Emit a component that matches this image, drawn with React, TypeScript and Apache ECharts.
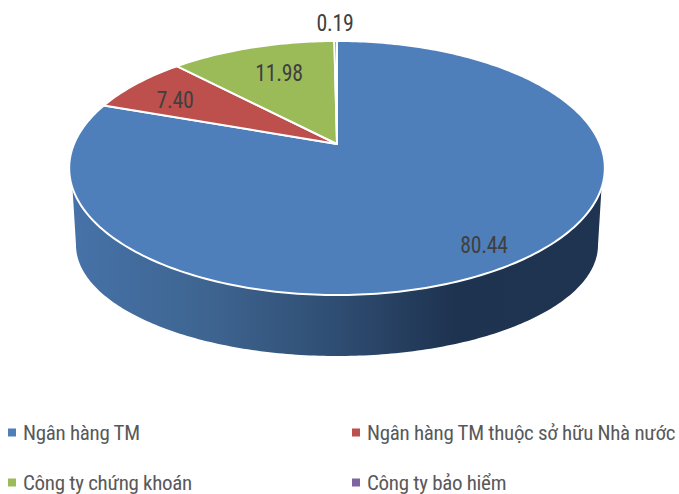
import React, { useEffect, useRef } from "react";
import * as echarts from "echarts";

const categories = ["Ngân hàng TM", "Ngân hàng TM thuộc sở hữu Nhà nước", "Công ty chứng khoán", "Công ty bảo hiểm"];
const values = [80.44, 7.4, 11.98, 0.19];
const labels = ["80.44", "7.40", "11.98", "0.19"];
const colors = ["#4e7fbb", "#bd4f4c", "#9bbb59", "#8064a2"];

const labelXY = [[484, 245], [175, 100], [279, 73], [335, 23]];
const legendXY = [[8, 422], [352, 422], [8, 472], [352, 472]];
const FONT = "Roboto, sans-serif";

// Perspective projection of the pie's top circle
const CX = 337, CY = 144, A = 263, B = 122.5, K = 0.189;
const project = (deg: number): number[] => {
  const t = (deg * Math.PI) / 180;
  const d = 1 + K * Math.cos(t);
  return [CX + (A * Math.sin(t)) / d, CY - (B * Math.cos(t)) / d];
};
// Lower rim of the pie's side wall
const RIM_CY = 245, RIM_RX = 261, RIM_RY = 111;
const WALL_FROM = 109.6;

const total = values.reduce((a, b) => a + b, 0);
const sliceStart = (i: number) => (values.slice(0, i).reduce((a, b) => a + b, 0) / total) * 360;

const wallPoints = (from: number, to: number) => {
  const pts: number[][] = [];
  const a = Math.max(from, WALL_FROM);
  const b = Math.min(to, 360 - WALL_FROM);
  if (b <= a) return pts;
  for (let d = a; d <= b; d += 1) pts.push(project(d));
  pts.push(project(b));
  for (let s = 180; s >= 0; s -= 1) {
    const t = (s * Math.PI) / 180;
    pts.push([CX + RIM_RX * Math.cos(t), RIM_CY + RIM_RY * Math.sin(t)]);
  }
  return pts;
};

const slicePoints = (from: number, to: number) => {
  const pts: number[][] = [[CX, CY]];
  for (let d = from; d < to; d += 1) pts.push(project(d));
  pts.push(project(to));
  return pts;
};

const makeSeries = (i: number) => ({
  type: "custom",
  name: categories[i],
  coordinateSystem: "none",
  silent: true,
  itemStyle: { color: colors[i] },
  data: [[values[i]]],
  z: 2,
  renderItem: (_p: any, api: any) => {
    const from = sliceStart(i);
    const to = from + (api.value(0) / total) * 360;
    const children: any[] = [];
    const wall = wallPoints(from, to);
    if (wall.length) {
      children.push({
        type: "polygon",
        shape: { points: wall },
        style: {
          fill: new echarts.graphic.LinearGradient(0, 0, 1, 0, [
            { offset: 0, color: "#4672a8" },
            { offset: 0.25, color: "#3e6591" },
            { offset: 0.5, color: "#2f4d72" },
            { offset: 0.72, color: "#1e3350" },
            { offset: 1, color: "#1e3450" },
          ]),
        },
      });
    }
    children.push({
      type: "polygon",
      shape: { points: slicePoints(from, to) },
      style: { fill: colors[i], stroke: "#ffffff", lineWidth: 2, lineJoin: "round" },
    });
    children.push({
      type: "text",
      z2: 10,
      x: labelXY[i][0],
      y: labelXY[i][1],
      scaleX: 0.95,
      style: {
        text: labels[i],
        fill: "#404040",
        font: `23px ${FONT}`,
        align: "center",
        verticalAlign: "middle",
      },
    });
    return { type: "group", children };
  },
});

export default function App() {
  const ref = useRef<HTMLDivElement>(null);
  useEffect(() => {
    const chart = echarts.init(ref.current!, undefined, { renderer: "svg" });
    chart.setOption({
      animation: false,
      legend: categories.map((name, i) => ({
        orient: "vertical",
        icon: "rect",
        itemWidth: 8,
        itemHeight: 8,
        selectedMode: false,
        padding: 0,
        textStyle: { color: "#595959", fontSize: 21, fontFamily: FONT, padding: [0, 0, 0, 2] },
        left: legendXY[i][0],
        top: legendXY[i][1],
        data: [name],
      })),
      series: values.map((_, i) => makeSeries(i)),
    });
    return () => chart.dispose();
  }, []);
  return (
    <>
      <style>{"svg text { font-stretch: 75% !important; letter-spacing: -0.3px; }"}</style>
      <div ref={ref} style={{ position: "absolute", left: 0, top: 0, width: 679, height: 494 }} />
    </>
  );
}
